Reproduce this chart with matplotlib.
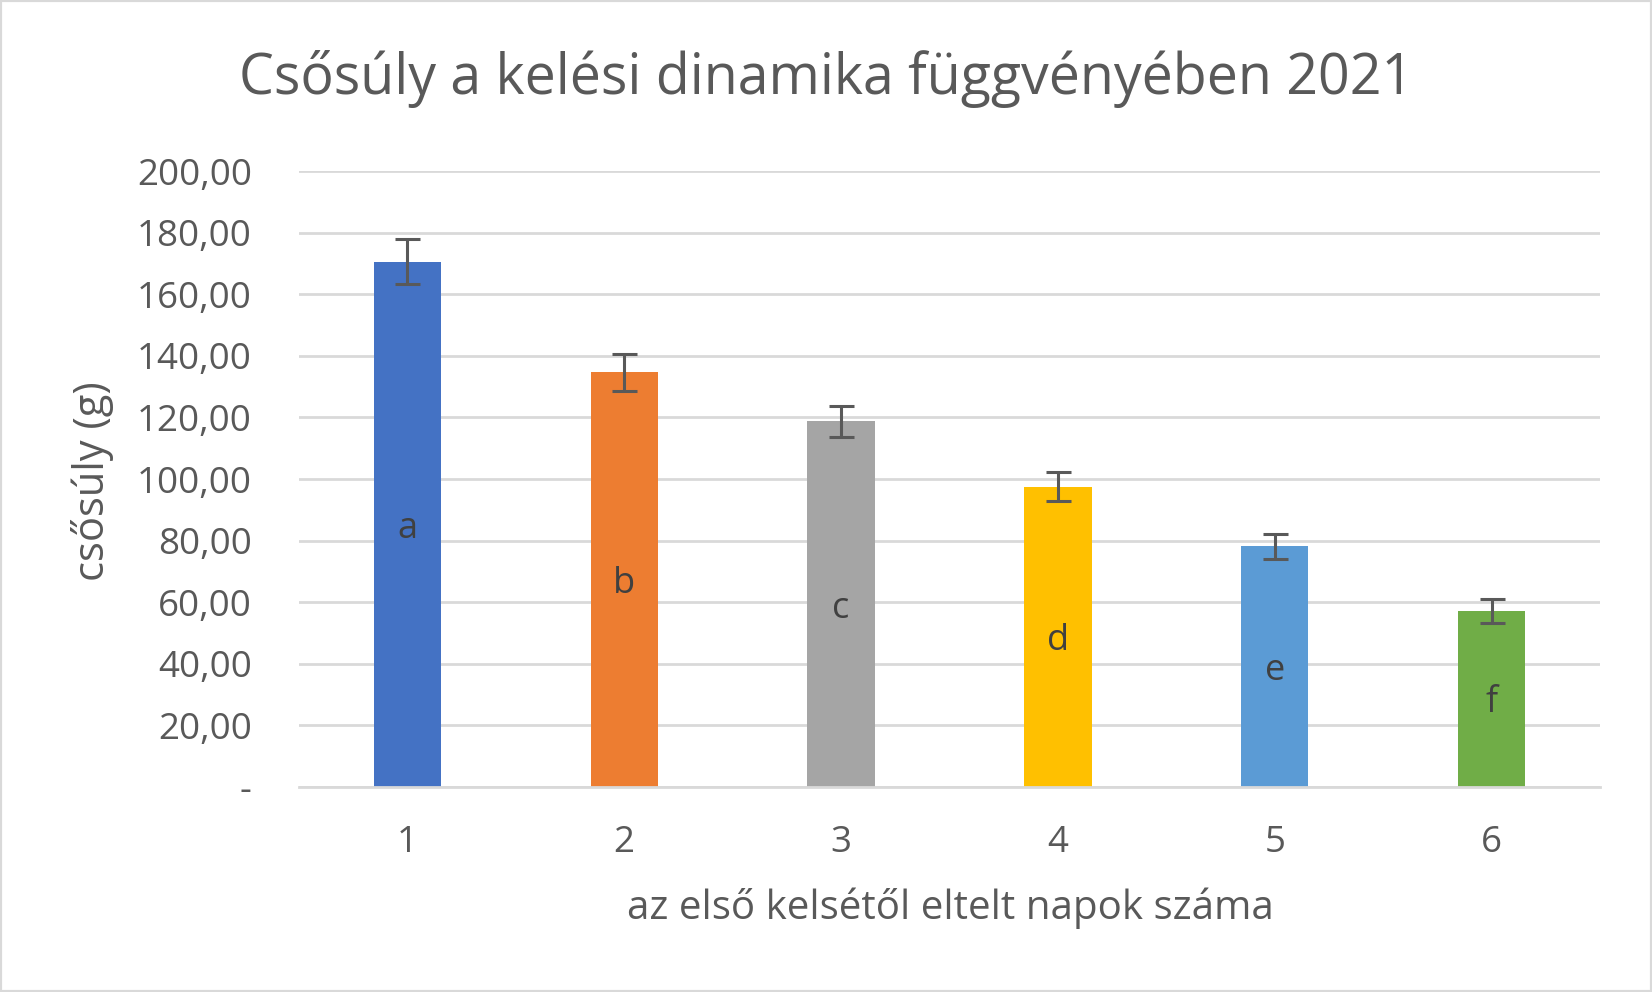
import numpy as np
import matplotlib.pyplot as plt
from matplotlib.ticker import FuncFormatter, MultipleLocator
from matplotlib.patches import Rectangle

plt.rcParams['font.family'] = ['Open Sans', 'DejaVu Sans']

# data
days = ['1', '2', '3', '4', '5', '6']
weights = [170.5, 134.6, 118.7, 97.5, 78.1, 57.2]
errors = [7.3, 6.0, 5.0, 4.7, 4.0, 3.9]
letters = ['a', 'b', 'c', 'd', 'e', 'f']
colors = ['#4472C4', '#ED7D31', '#A5A5A5', '#FFC000', '#5B9BD5', '#70AD47']

text_col = '#595959'

W, H = 1652, 992
fig = plt.figure(figsize=(W / 100, H / 100), dpi=100)
ax = fig.add_axes([299 / W, 1 - 787 / H, (1600 - 299) / W, (787 - 171) / H])

x = np.arange(len(days))
ax.bar(x, weights, width=0.31, color=colors, zorder=2)
ax.errorbar(x, weights, yerr=errors, fmt='none', ecolor=text_col,
            elinewidth=2.2, capsize=9, capthick=2.2, zorder=3)

# letters in the middle of each bar
for xi, w, t in zip(x, weights, letters):
    ax.text(xi, w / 2, t, ha='center', va='center_baseline', fontsize=26,
            color='#404040', zorder=4)

ax.set_xlim(-0.5, len(days) - 0.5)
ax.set_ylim(0, 200)
ax.yaxis.set_major_locator(MultipleLocator(20))

def fmt(v, pos):
    if v == 0:
        return '-'
    return f'{v:.2f}'.replace('.', ',')

ax.yaxis.set_major_formatter(FuncFormatter(fmt))
ax.set_xticks(x)
ax.set_xticklabels(days)

ax.grid(axis='y', color='#d9d9d9', linewidth=2, zorder=0)
ax.set_axisbelow(True)
for s in ['top', 'right', 'left']:
    ax.spines[s].set_visible(False)
ax.spines['bottom'].set_color('#d9d9d9')
ax.spines['bottom'].set_linewidth(2)
ax.tick_params(axis='both', length=0, labelsize=26.5, colors=text_col)
ax.tick_params(axis='y', pad=34)
ax.tick_params(axis='x', pad=27)

fig.text(0.5, 1 - 79 / H, 'Csősúly a kelési dinamika függvényében 2021', fontsize=40,
         color=text_col, ha='center', va='center')
fig.text(950 / W, 1 - 908 / H, 'az első kelsétől eltelt napok száma', fontsize=29,
         color=text_col, ha='center', va='center')
fig.text(93 / W, 1 - 481 / H, 'csősúly (g)', fontsize=30, color=text_col,
         ha='center', va='center', rotation=90)

fig.patches.append(Rectangle((0, 0), 1, 1, transform=fig.transFigure, fill=False,
                             edgecolor='#d9d9d9', linewidth=3))

fig.savefig('out.png', dpi=100)
